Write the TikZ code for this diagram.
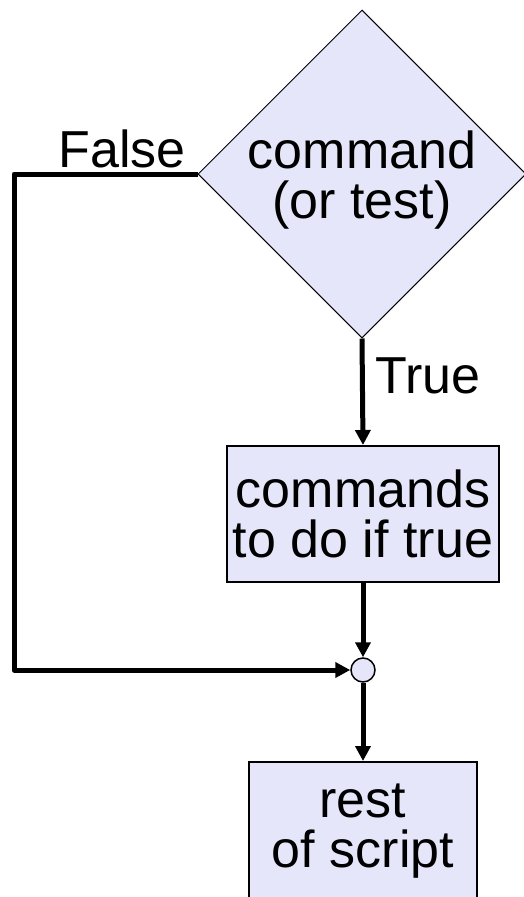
\documentclass[tikz,border=0pt]{standalone}
\usepackage{fontspec}
\setmainfont{Liberation Sans}
\usetikzlibrary{shapes.geometric,arrows.meta}
\definecolor{lav}{RGB}{230,230,250}
\tikzset{
  txt/.style={font=\fontsize{52}{50}\selectfont},
  lbl/.style={txt, inner sep=0pt},
  boxnode/.style={draw, fill=lav, line width=2pt, inner sep=0pt, align=center, txt},
  decnode/.style={draw, fill=lav, line width=1pt, diamond, inner sep=0pt, minimum width=328pt, minimum height=328pt},
  joinnode/.style={draw, fill=lav, line width=1.5pt, circle, inner sep=0pt, minimum size=24pt},
  conn/.style={line width=5pt, line join=round, -{Triangle[length=15pt,width=15pt]}}
}
\begin{document}
\begin{tikzpicture}[x=1pt,y=-1pt]
\useasboundingbox (0,0) rectangle (523,897);
\node[decnode] (d) at (362,174) {};
\node[lbl, align=center] (dt) at (362,180) {command\\(or test)};
\node[boxnode, minimum width=272pt, minimum height=136pt] (b1) at (363,514) {commands\\to do if true};
\node[joinnode] (c) at (363,670) {};
\node[boxnode, minimum width=228pt, minimum height=138pt] (b2) at (363,831) {rest\\of script};
\coordinate (k) at (14,670);
\node[lbl, anchor=base] (fl) at (122,167) {False};
\node[lbl, anchor=base west] (tl) at (375,393) {True};
\draw[conn] (d.south) -- (b1.north);
\draw[conn] (b1.south) -- (c.north);
\draw[conn] (c.south) -- (b2.north);
\draw[conn] (d.west) -| (k) -- (c.west);
\end{tikzpicture}
\end{document}
